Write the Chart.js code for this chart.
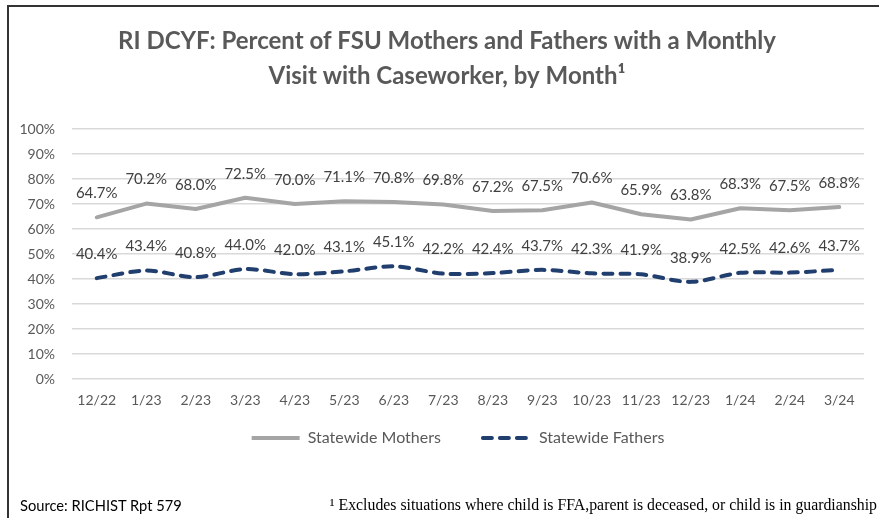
<!DOCTYPE html>
<html>
<head>
<meta charset="utf-8">
<script src="https://cdn.jsdelivr.net/npm/chart.js@4/dist/chart.umd.min.js"></script>
<style>
  html, body { margin: 0; padding: 0; background: #fff; }
  #wrap { position: relative; width: 879px; height: 518px; overflow: hidden; }
  #frame { position: absolute; left: 7px; top: 5px; width: 880px; height: 520px;
           border-left: 2px solid #333; border-top: 2px solid #333; box-sizing: border-box; }
  canvas { position: absolute; left: 0; top: 0; }
  #source { position: absolute; left: 20px; top: 496px; font-family: Lato, sans-serif; font-size: 14.7px; color: #000; }
  #note { position: absolute; right: 2px; top: 496px; font-family: "Liberation Serif", serif; font-size: 15.8px; color: #000; white-space: nowrap; }
</style>
</head>
<body>
<div id="wrap">
  <div id="frame"></div>
  <canvas id="c" width="879" height="518"></canvas>
  <div id="source">Source: RICHIST Rpt 579</div>
  <div id="note">¹ Excludes situations where child is FFA,parent is deceased, or child is in guardianship</div>
</div>
<script>
const categories = ["12/22","1/23","2/23","3/23","4/23","5/23","6/23","7/23","8/23","9/23","10/23","11/23","12/23","1/24","2/24","3/24"];
const mothers = [64.7,70.2,68.0,72.5,70.0,71.1,70.8,69.8,67.2,67.5,70.6,65.9,63.8,68.3,67.5,68.8];
const fathers = [40.4,43.4,40.8,44.0,42.0,43.1,45.1,42.2,42.4,43.7,42.3,41.9,38.9,42.5,42.6,43.7];
const yTicks = [0,10,20,30,40,50,60,70,80,90,100];

const labelPlugin = {
  id: 'valueLabels',
  afterDatasetsDraw(chart) {
    const ctx = chart.ctx;
    ctx.save();
    ctx.font = '15px Lato';
    ctx.fillStyle = '#404040';
    ctx.textAlign = 'center';
    ctx.textBaseline = 'middle';
    chart.data.datasets.forEach((ds, i) => {
      const meta = chart.getDatasetMeta(i);
      meta.data.forEach((pt, j) => {
        ctx.fillText(ds.data[j].toFixed(1) + '%', pt.x, pt.y - 24);
      });
    });
    ctx.restore();
  }
};

// Excel-like placement of the title and legend row
const boxShift = {
  id: 'boxShift',
  afterLayout(chart) {
    const lg = chart.legend;
    if (lg) { lg.top -= 26; lg.bottom -= 26; lg.left += 19; lg.right += 19; }
    const tb = chart.titleBlock;
    if (tb) { tb.left += 8; tb.right += 8; }
  }
};

new Chart(document.getElementById('c'), {
  type: 'line',
  data: {
    labels: categories,
    datasets: [
      { label: 'Statewide Mothers', data: mothers, borderColor: '#a5a5a5', backgroundColor: '#a5a5a5',
        borderWidth: 4, pointRadius: 0, tension: 0, borderCapStyle: 'round', borderJoinStyle: 'round' },
      { label: 'Statewide Fathers', data: fathers, borderColor: '#203e6e', backgroundColor: '#203e6e',
        borderWidth: 4, borderDash: [9, 8], borderCapStyle: 'round', pointRadius: 0, tension: 0.3 }
    ]
  },
  options: {
    responsive: false,
    animation: false,
    layout: { padding: { left: 14, right: 15, top: 10, bottom: 36 } },
    plugins: {
      title: {
        display: true,
        text: ['RI DCYF: Percent of FSU Mothers and Fathers with a Monthly', 'Visit with Caseworker, by Month¹'],
        font: { family: 'Lato', size: 24, weight: 'bold', lineHeight: 1.45 },
        color: '#595959',
        padding: { top: 14, bottom: 35.4 }
      },
      legend: {
        position: 'bottom',
        labels: {
          usePointStyle: true, pointStyle: 'line', pointStyleWidth: 48, boxHeight: 16,
          font: { family: 'Lato', size: 16 }, color: '#595959', padding: 42,
          generateLabels(chart) {
            return chart.data.datasets.map((ds, i) => ({
              text: ds.label,
              datasetIndex: i,
              fillStyle: ds.borderColor,
              strokeStyle: ds.borderColor,
              lineWidth: ds.borderWidth,
              lineDash: ds.borderDash || [],
              lineCap: i === 1 ? 'round' : 'butt',
              pointStyle: 'line',
              fontColor: '#595959',
              hidden: false
            }));
          }
        }
      },
      tooltip: { enabled: false }
    },
    scales: {
      x: {
        offset: true,
        grid: { display: false },
        border: { display: false },
        ticks: { font: { family: 'Lato', size: 14 }, color: '#595959', padding: 5, maxRotation: 0, autoSkip: false }
      },
      y: {
        min: 0, max: 100,
        afterBuildTicks(scale) { scale.ticks = yTicks.map(v => ({ value: v })); },
        afterFit(scale) { scale.width = 58; },
        grid: { color: '#d9d9d9', lineWidth: 1.5, drawTicks: false },
        border: { display: false },
        ticks: { font: { family: 'Lato', size: 14 }, color: '#595959', padding: 17, callback: v => v + '%' }
      }
    }
  },
  plugins: [labelPlugin, boxShift]
});
</script>
</body>
</html>
